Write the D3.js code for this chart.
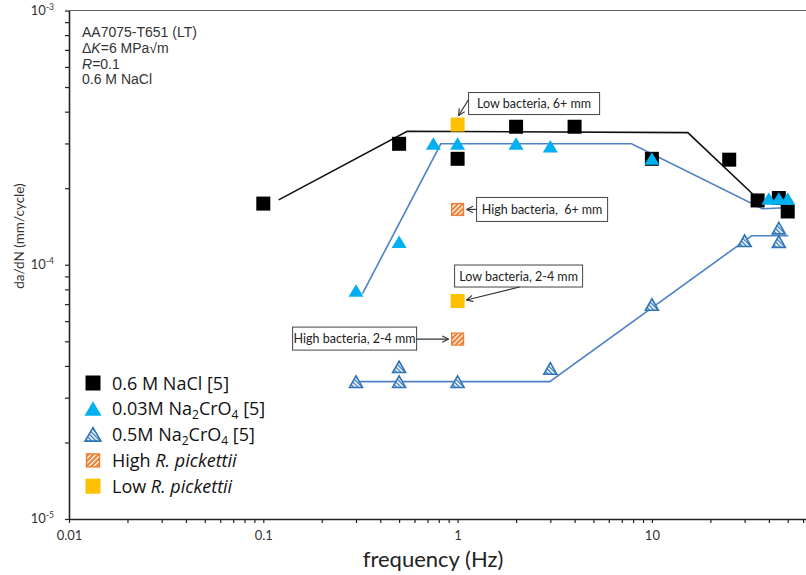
<!DOCTYPE html>
<html>
<head>
<meta charset="utf-8">
<script src="https://cdn.jsdelivr.net/npm/d3@7"></script>
<style>
  body { margin: 0; background: #fff; }
  svg { display: block; }
</style>
</head>
<body>
<div id="chart"></div>
<script>
// frequency (Hz) / da/dN (mm/cycle) pairs
const naclPts = [[0.1, 1.74e-4], [0.5, 2.99e-4], [1, 2.61e-4], [2, 3.49e-4], [4, 3.49e-4],
                 [10, 2.61e-4], [25, 2.59e-4], [35, 1.79e-4], [45, 1.83e-4], [50, 1.62e-4]];
const cro003Pts = [[0.3, 7.9e-5], [0.5, 1.23e-4], [0.75, 2.99e-4], [1, 2.99e-4], [2, 2.99e-4],
                   [3, 2.92e-4], [10, 2.61e-4], [40, 1.82e-4], [45, 1.82e-4], [50, 1.82e-4]];
const cro05Pts = [[0.3, 3.46e-5], [0.5, 3.96e-5], [0.5, 3.46e-5], [1, 3.46e-5], [3, 3.9e-5],
                  [10, 6.96e-5], [30, 1.24e-4], [45, 1.39e-4], [45, 1.23e-4]];
const highRpPts = [[1, 1.65e-4], [1, 5.1e-5]];
const lowRpPts = [[1, 3.56e-4], [1, 7.2e-5]];

// hand-drawn trend lines
const naclTrend = [[0.12, 1.8e-4], [0.55, 3.35e-4], [15.3, 3.31e-4], [35.8, 1.79e-4]];
const cro003Trend = [[0.324, 7.7e-5], [0.82, 2.99e-4], [7.86, 2.99e-4], [37, 1.66e-4], [53, 1.68e-4]];
const cro05Trend = [[0.31, 3.47e-5], [2.98, 3.47e-5], [32.6, 1.3e-4], [50.4, 1.3e-4]];

// callouts
const noteText = ["Low bacteria, 6+ mm", "High bacteria,  6+ mm", "Low bacteria, 2-4 mm", "High bacteria, 2-4 mm"];
const noteTarget = [[1, 3.56e-4], [1, 1.65e-4], [1, 7.2e-5], [1, 5.1e-5]];

const xMajor = [0.01, 0.1, 1, 10, 100];
const xMajorLabels = ["0.01", "0.1", "1", "10", "100"];
const yMajor = [1e-5, 1e-4, 1e-3];
const yMajorExp = ["-5", "-4", "-3"];

const legendLabels = ["0.6 M NaCl [5]", "0.03M Na2CrO4 [5]", "0.5M Na2CrO4 [5]", "High R. pickettii", "Low R. pickettii"];

// layout (pixels)
const W = 806, H = 575;
const plotLeft = 69, plotTop = 10.5, plotBottom = 519, decade = 194.3;
// box offsets relative to the target marker: [dx, dy, w, h, arrow start dx, dy, arrow tip dx, dy]
const noteLayout = [
  [11, -32, 131, 22, 11, -25, 1, -9],
  [19, -12, 131, 24, 19, 0, 9, 0],
  [-3, -36, 128, 22, 62, -14, 9, -1],
  [-165, -12, 124, 23, -41, 0, -9, 0]
];

const svg = d3.select("#chart").append("svg")
  .attr("width", W).attr("height", H);

svg.append("rect").attr("width", W).attr("height", H).attr("fill", "#fff");

const defs = svg.append("defs");
const hatchBlue = defs.append("pattern")
  .attr("id", "hatchBlue").attr("patternUnits", "userSpaceOnUse")
  .attr("width", 3).attr("height", 3).attr("patternTransform", "rotate(-45)");
hatchBlue.append("rect").attr("width", 3).attr("height", 3).attr("fill", "#fff");
hatchBlue.append("rect").attr("width", 1.3).attr("height", 3).attr("fill", "#2E75B6");

const hatchOrange = defs.append("pattern")
  .attr("id", "hatchOrange").attr("patternUnits", "userSpaceOnUse")
  .attr("width", 3.5).attr("height", 3.5).attr("patternTransform", "rotate(45)");
hatchOrange.append("rect").attr("width", 3.5).attr("height", 3.5).attr("fill", "#ED7D31");
hatchOrange.append("rect").attr("width", 1.3).attr("height", 3.5).attr("fill", "#fff");

defs.append("marker")
  .attr("id", "arrow").attr("viewBox", "0 0 10 10")
  .attr("refX", 9).attr("refY", 5)
  .attr("markerWidth", 8).attr("markerHeight", 8)
  .attr("markerUnits", "userSpaceOnUse")
  .attr("orient", "auto")
  .append("path")
  .attr("d", "M1,1 L9,5 L1,9")
  .attr("fill", "none").attr("stroke", "#333").attr("stroke-width", 1.4);

// scales
const x = d3.scaleLog().domain([0.01, 100]).range([plotLeft, plotLeft + 4 * decade]);
const y = d3.scaleLog().domain([1e-5, 1e-3]).range([plotBottom, plotTop]);

// minor tick values
const xTicks = [];
xMajor.slice(0, -1).forEach(m => { for (let k = 1; k < 10; k++) xTicks.push(m * k); });
const yTicks = [];
yMajor.slice(0, -1).forEach(m => { for (let k = 1; k < 10; k++) yTicks.push(m * k); });
yTicks.push(1e-3);

// frame top line
svg.append("line")
  .attr("x1", plotLeft).attr("x2", W).attr("y1", plotTop).attr("y2", plotTop)
  .attr("stroke", "#666").attr("stroke-width", 1);

// x axis
const xAxis = svg.append("g")
  .attr("transform", `translate(0,${plotBottom})`)
  .call(d3.axisBottom(x).tickValues(xTicks).tickSize(4).tickSizeOuter(0)
    .tickFormat(d => {
      const i = xMajor.findIndex(m => Math.abs(m - d) / m < 1e-6);
      return i >= 0 ? xMajorLabels[i] : "";
    }));
xAxis.select(".domain").attr("stroke", "#222").attr("stroke-width", 1.6);
xAxis.selectAll(".tick line").attr("stroke", "#222").attr("stroke-width", 1.2);
xAxis.selectAll(".tick text")
  .attr("y", 12)
  .style("font-family", "Lato, sans-serif").style("font-size", "13px").attr("fill", "#333");

// y axis
const yAxis = svg.append("g")
  .attr("transform", `translate(${plotLeft},0)`)
  .call(d3.axisLeft(y).tickValues(yTicks).tickSize(4).tickSizeOuter(0).tickFormat(""));
yAxis.select(".domain").attr("stroke", "#222").attr("stroke-width", 1.6);
yAxis.selectAll(".tick line").attr("stroke", "#222").attr("stroke-width", 1.2);

const yLab = svg.append("g");
yMajor.forEach((m, i) => {
  const t = yLab.append("text")
    .attr("x", plotLeft - 15).attr("y", y(m) + 4)
    .attr("text-anchor", "end")
    .style("font-family", "Lato, sans-serif").style("font-size", "13px").attr("fill", "#333");
  t.append("tspan").text("10");
  t.append("tspan").attr("dy", -5).style("font-size", "8.5px").text(yMajorExp[i]);
});

// axis titles
svg.append("text")
  .attr("x", 433).attr("y", 567)
  .attr("text-anchor", "middle")
  .style("font-family", "Lato, sans-serif").style("font-size", "22px").attr("fill", "#222")
  .text("frequency (Hz)");

svg.append("text")
  .attr("transform", "translate(24,236) rotate(-90)")
  .attr("text-anchor", "middle")
  .style("font-family", "Lato, sans-serif").style("font-size", "13.5px").attr("fill", "#333")
  .text("da/dN (mm/cycle)");

// plot layer
const plot = svg.append("g");

const line = d3.line().x(d => x(d[0])).y(d => y(d[1]));

plot.append("path").datum(naclTrend).attr("d", line)
  .attr("fill", "none").attr("stroke", "#111").attr("stroke-width", 1.6);
plot.append("path").datum(cro003Trend).attr("d", line)
  .attr("fill", "none").attr("stroke", "#4F81C7").attr("stroke-width", 1.6);
plot.append("path").datum(cro05Trend).attr("d", line)
  .attr("fill", "none").attr("stroke", "#4F81C7").attr("stroke-width", 1.6);

const triPath = "M0,-6.5 L7.5,6 L-7.5,6 Z";
const triPathSmall = "M0,-6 L6.5,5.5 L-6.5,5.5 Z";

plot.selectAll(".nacl").data(naclPts).join("rect")
  .attr("x", d => x(d[0]) - 7).attr("y", d => y(d[1]) - 7)
  .attr("width", 14).attr("height", 14).attr("fill", "#000");

plot.selectAll(".cro003").data(cro003Pts).join("path")
  .attr("transform", d => `translate(${x(d[0])},${y(d[1])})`)
  .attr("d", triPath).attr("fill", "#00B0F0");

plot.selectAll(".cro05").data(cro05Pts).join("path")
  .attr("transform", d => `translate(${x(d[0])},${y(d[1])})`)
  .attr("d", triPathSmall).attr("fill", "url(#hatchBlue)")
  .attr("stroke", "#2E75B6").attr("stroke-width", 1.6);

plot.selectAll(".highrp").data(highRpPts).join("rect")
  .attr("x", d => x(d[0]) - 6).attr("y", d => y(d[1]) - 6)
  .attr("width", 12).attr("height", 12)
  .attr("fill", "url(#hatchOrange)").attr("stroke", "#ED7D31").attr("stroke-width", 1.2);

plot.selectAll(".lowrp").data(lowRpPts).join("rect")
  .attr("x", d => x(d[0]) - 7).attr("y", d => y(d[1]) - 7)
  .attr("width", 14).attr("height", 14).attr("fill", "#FFC000");

// callouts
const notes = svg.append("g");
noteText.forEach((txt, i) => {
  const px = x(noteTarget[i][0]), py = y(noteTarget[i][1]);
  const L = noteLayout[i];
  notes.append("rect")
    .attr("x", px + L[0]).attr("y", py + L[1])
    .attr("width", L[2]).attr("height", L[3])
    .attr("fill", "#fff").attr("stroke", "#444").attr("stroke-width", 1);
  notes.append("text")
    .attr("x", px + L[0] + L[2] / 2).attr("y", py + L[1] + L[3] / 2 + 4.5)
    .attr("text-anchor", "middle")
    .style("font-family", "Lato, sans-serif").style("font-size", "12.5px").attr("fill", "#222")
    .style("white-space", "pre")
    .text(txt);
  notes.append("line")
    .attr("x1", px + L[4]).attr("y1", py + L[5])
    .attr("x2", px + L[6]).attr("y2", py + L[7])
    .attr("stroke", "#333").attr("stroke-width", 1.2)
    .attr("marker-end", "url(#arrow)");
});

// header text
const head = svg.append("g")
  .style("font-family", "'Liberation Sans', Arial, sans-serif").style("font-size", "14px").attr("fill", "#333");
head.append("text").attr("x", 82).attr("y", 37).text("AA7075-T651 (LT)");
const h2 = head.append("text").attr("x", 82).attr("y", 53);
h2.append("tspan").text("\u0394");
h2.append("tspan").style("font-style", "italic").text("K");
h2.append("tspan").text("=6 MPa\u221Am");
const h3 = head.append("text").attr("x", 82).attr("y", 68.5);
h3.append("tspan").style("font-style", "italic").text("R");
h3.append("tspan").text("=0.1");
head.append("text").attr("x", 82).attr("y", 84).text("0.6 M NaCl");

// legend
const legend = svg.append("g")
  .style("font-family", "'Open Sans', sans-serif").style("font-size", "18px").attr("fill", "#111");
const rowY = i => 383 + i * 25.8;
const lx = 93;

legend.append("rect").attr("x", lx - 7.5).attr("y", rowY(0) - 7.5).attr("width", 15).attr("height", 15).attr("fill", "#000");
legend.append("path").attr("transform", `translate(${lx},${rowY(1)})`)
  .attr("d", "M0,-7.5 L8.5,7 L-8.5,7 Z").attr("fill", "#00B0F0");
legend.append("path").attr("transform", `translate(${lx},${rowY(2)})`)
  .attr("d", "M0,-7 L8,6.5 L-8,6.5 Z").attr("fill", "url(#hatchBlue)")
  .attr("stroke", "#2E75B6").attr("stroke-width", 1.6);
legend.append("rect").attr("x", lx - 6.5).attr("y", rowY(3) - 6.5).attr("width", 13).attr("height", 13)
  .attr("fill", "url(#hatchOrange)").attr("stroke", "#ED7D31").attr("stroke-width", 1.4);
legend.append("rect").attr("x", lx - 7.5).attr("y", rowY(4) - 7.5).attr("width", 15).attr("height", 15).attr("fill", "#FFC000");

const tx = 112;
legend.append("text").attr("x", tx).attr("y", rowY(0) + 6.5).text(legendLabels[0]);

[1, 2].forEach(i => {
  const t = legend.append("text").attr("x", tx).attr("y", rowY(i) + 6.5);
  const [pre, rest] = legendLabels[i].split("Na2CrO4");
  t.append("tspan").text(pre + "Na");
  t.append("tspan").attr("dy", 4).style("font-size", "12px").text("2");
  t.append("tspan").attr("dy", -4).text("CrO");
  t.append("tspan").attr("dy", 4).style("font-size", "12px").text("4");
  t.append("tspan").attr("dy", -4).text(rest);
});

[3, 4].forEach(i => {
  const t = legend.append("text").attr("x", tx).attr("y", rowY(i) + 6.5);
  const [word, ...species] = legendLabels[i].split(" ");
  t.append("tspan").text(word + " ");
  t.append("tspan").style("font-style", "italic").text(species.join(" "));
});
</script>
</body>
</html>
